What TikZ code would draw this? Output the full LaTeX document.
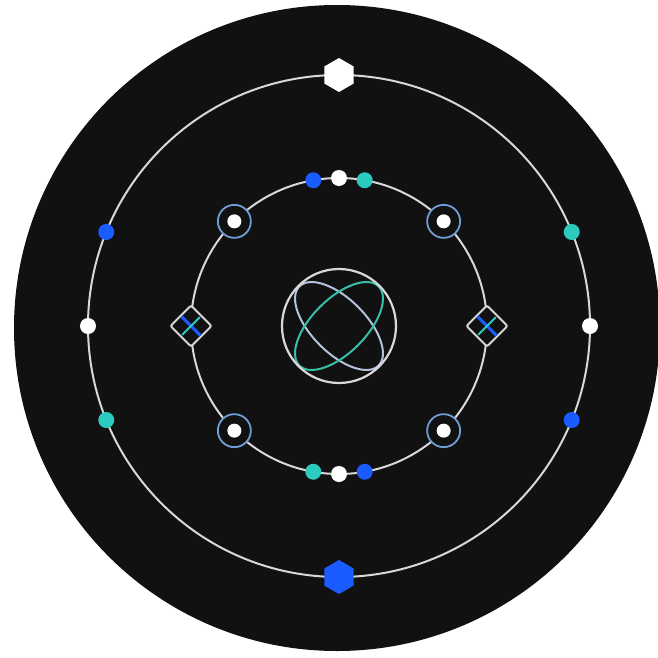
\documentclass[tikz,border=0pt]{standalone}
\usetikzlibrary{shapes.geometric}
\definecolor{bg}{HTML}{111111}
\definecolor{ringgray}{HTML}{D8D8D8}
\definecolor{dotblue}{HTML}{1A5CFF}
\definecolor{dotteal}{HTML}{2CCBC0}
\definecolor{haloblue}{HTML}{6E9ED4}
\definecolor{orbitlight}{HTML}{B4C2DC}
\definecolor{orbitteal}{HTML}{38BFA8}
\begin{document}
\begin{tikzpicture}[
      x=1pt, y=1pt,
      ring/.style={draw=ringgray, line width=2pt},
      dot/.style={circle, inner sep=0pt, minimum size=16pt},
      hexa/.style={regular polygon, regular polygon sides=6, shape border rotate=30,
        inner sep=0pt, minimum size=34pt},
      halo/.style={circle, draw=haloblue, line width=1.8pt, fill=bg, inner sep=0pt, minimum size=33pt},
      gem/.style={rectangle, rotate=45, draw=ringgray, line width=2pt, fill=bg,
        rounded corners=2pt, inner sep=0pt, minimum size=29pt},
      orbit/.style={line width=2pt}
    ]
    \useasboundingbox (-339,-331) rectangle (319,326);
    \fill[bg] (-2,-2) circle (323);
    \draw[ring] (0,0) circle (251);
    \draw[ring] (0,0) circle (148);

    % core
    \draw[orbit, orbitlight, rotate=-45] (0,0) ellipse (56 and 27);
    \draw[orbit, orbitteal, rotate=45] (0,0) ellipse (56 and 27);
    \node[circle, draw=ringgray, line width=2.2pt, inner sep=0pt, minimum size=114pt] (core) at (0,0) {};

    % outer ring
    \node[hexa, fill=white] (h1) at (90:251) {};
    \node[hexa, fill=dotblue] (h2) at (270:251) {};
    \node[dot, fill=white] (o1) at (180:251) {};
    \node[dot, fill=white] (o2) at (0:251) {};
    \node[dot, fill=dotblue] (o3) at (158:251) {};
    \node[dot, fill=dotteal] (o4) at (202:251) {};
    \node[dot, fill=dotteal] (o5) at (22:251) {};
    \node[dot, fill=dotblue] (o6) at (-22:251) {};

    % inner ring
    \node[dot, fill=white] (i1) at (90:148) {};
    \node[dot, fill=dotblue] (i2) at (100:148) {};
    \node[dot, fill=dotteal] (i3) at (80:148) {};
    \node[dot, fill=white] (i4) at (270:148) {};
    \node[dot, fill=dotteal] (i5) at (260:148) {};
    \node[dot, fill=dotblue] (i6) at (280:148) {};

    \node[halo] (s1) at (45:148) {};
    \node[halo] (s2) at (135:148) {};
    \node[halo] (s3) at (225:148) {};
    \node[halo] (s4) at (315:148) {};
    \node[dot, fill=white, minimum size=14pt] (s1c) at (s1) {};
    \node[dot, fill=white, minimum size=14pt] (s2c) at (s2) {};
    \node[dot, fill=white, minimum size=14pt] (s3c) at (s3) {};
    \node[dot, fill=white, minimum size=14pt] (s4c) at (s4) {};

    \node[gem] (g1) at (180:148) {};
    \node[gem] (g2) at (0:148) {};
    \draw[dotblue, line width=3pt, shorten <=2pt, shorten >=2pt] (g1.north) -- (g1.south);
    \draw[dotteal, line width=2pt, shorten <=3pt, shorten >=3pt] (g1.west) -- (g1.east);
    \draw[dotblue, line width=3pt, shorten <=2pt, shorten >=2pt] (g2.north) -- (g2.south);
    \draw[dotteal, line width=2pt, shorten <=3pt, shorten >=3pt] (g2.west) -- (g2.east);
  \end{tikzpicture}
\end{document}
